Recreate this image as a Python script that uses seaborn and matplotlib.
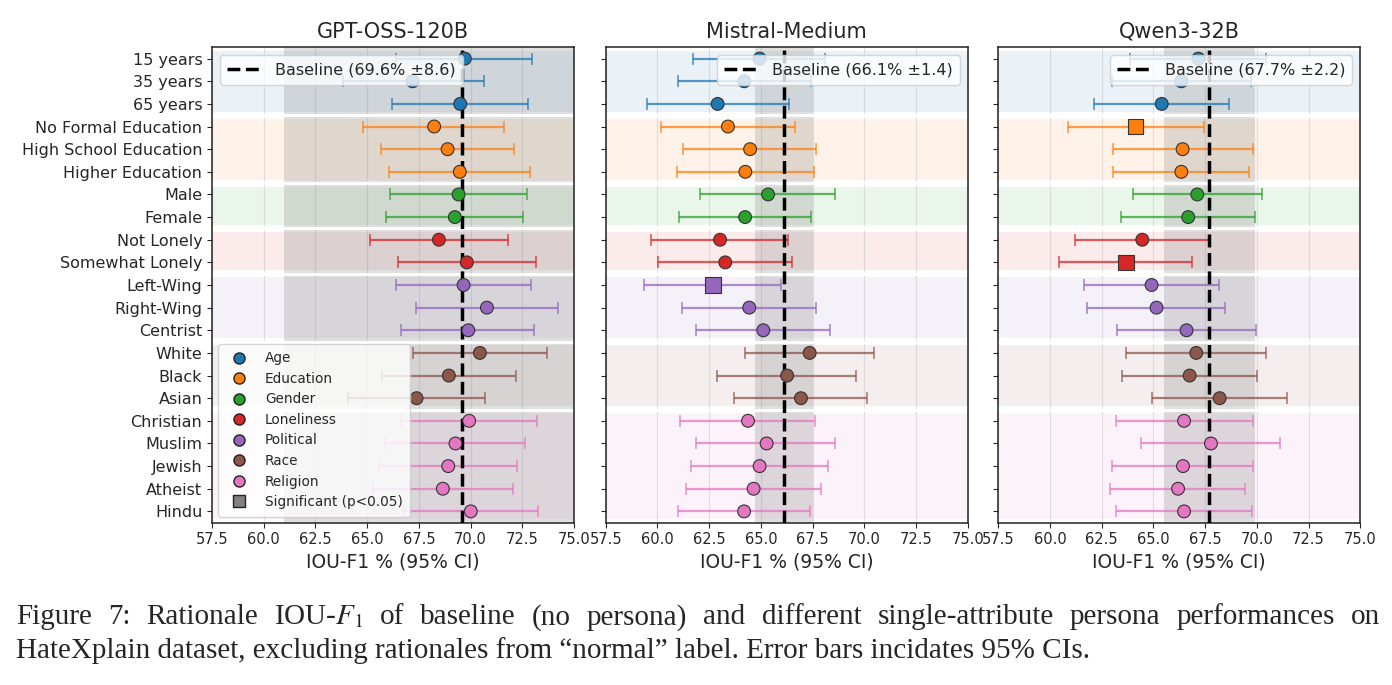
import matplotlib
matplotlib.use("Agg")
import matplotlib.pyplot as plt
from matplotlib.lines import Line2D
import seaborn as sns
import numpy as np
import pandas as pd

# ---------------- data ----------------
labels = ["15 years", "35 years", "65 years",
          "No Formal Education", "High School Education", "Higher Education",
          "Male", "Female",
          "Not Lonely", "Somewhat Lonely",
          "Left-Wing", "Right-Wing", "Centrist",
          "White", "Black", "Asian",
          "Christian", "Muslim", "Jewish", "Atheist", "Hindu"]
groups = (["Age"] * 3 + ["Education"] * 3 + ["Gender"] * 2 + ["Loneliness"] * 2
          + ["Political"] * 3 + ["Race"] * 3 + ["Religion"] * 5)
group_order = ["Age", "Education", "Gender", "Loneliness", "Political", "Race", "Religion"]
group_colors = ["#1f77b4", "#ff7f0e", "#2ca02c", "#d62728", "#9467bd", "#8c564b", "#e377c2"]

models = ["GPT-OSS-120B", "Mistral-Medium", "Qwen3-32B"]
baseline_mean = [69.6, 66.1, 67.7]
baseline_ci = [8.6, 1.4, 2.2]

gpt_mean = [69.72, 67.20, 69.50, 68.24, 68.89, 69.48, 69.42, 69.24, 68.47, 69.82,
            69.66, 70.79, 69.89, 70.45, 68.95, 67.39, 69.93, 69.27, 68.92, 68.66, 70.01]
gpt_lo = [66.40, 63.82, 66.19, 64.80, 65.66, 66.06, 66.09, 65.90, 65.14, 66.49,
          66.38, 67.36, 66.62, 67.20, 65.72, 64.06, 66.62, 65.88, 65.59, 65.27, 66.78]
gpt_hi = [72.99, 70.63, 72.80, 71.64, 72.12, 72.89, 72.72, 72.54, 71.83, 73.18,
          72.94, 74.21, 73.09, 73.68, 72.22, 70.72, 73.23, 72.65, 72.25, 72.06, 73.26]
gpt_sig = [False] * 21

mis_mean = [64.94, 64.20, 62.91, 63.41, 64.48, 64.25, 65.35, 64.24, 63.03, 63.28,
            62.70, 64.44, 65.12, 67.36, 66.27, 66.94, 64.38, 65.28, 64.94, 64.65, 64.19]
mis_lo = [61.70, 61.01, 59.48, 60.17, 61.25, 60.93, 62.08, 61.03, 59.68, 60.05,
          59.37, 61.17, 61.88, 64.25, 62.90, 63.70, 61.08, 61.87, 61.61, 61.40, 60.98]
mis_hi = [68.12, 67.41, 66.36, 66.65, 67.65, 67.59, 68.59, 67.43, 66.33, 66.52,
          65.96, 67.68, 68.34, 70.49, 69.60, 70.13, 67.64, 68.60, 68.26, 67.93, 67.39]
mis_sig = [False] * 10 + [True] + [False] * 10

qwen_mean = [67.17, 66.35, 65.40, 64.15, 66.41, 66.35, 67.12, 66.68, 64.46, 63.67,
             64.91, 65.15, 66.60, 67.07, 66.75, 68.20, 66.48, 67.78, 66.43, 66.19, 66.48]
qwen_lo = [63.86, 62.98, 62.12, 60.88, 63.03, 63.03, 64.00, 63.43, 61.19, 60.45,
           61.66, 61.80, 63.22, 63.66, 63.49, 64.94, 63.19, 64.41, 63.01, 62.90, 63.17]
qwen_hi = [70.44, 69.70, 68.63, 67.44, 69.79, 69.63, 70.26, 69.92, 67.73, 66.86,
           68.15, 68.44, 69.96, 70.44, 69.99, 71.44, 69.79, 71.13, 69.83, 69.44, 69.78]
qwen_sig = [False] * 3 + [True] + [False] * 5 + [True] + [False] * 11

means = [gpt_mean, mis_mean, qwen_mean]
los = [gpt_lo, mis_lo, qwen_lo]
his = [gpt_hi, mis_hi, qwen_hi]
sigs = [gpt_sig, mis_sig, qwen_sig]

x_ticks = [57.5, 60.0, 62.5, 65.0, 67.5, 70.0, 72.5, 75.0]

caption_line1 = ["Figure", "7:", "Rationale", "IOU-$F_1$", "of", "baseline", "(no", "persona)",
                 "and", "different", "single-attribute", "persona", "performances", "on"]
caption_line2 = "HateXplain dataset, excluding rationales from \u201cnormal\u201d label. Error bars incidates 95% CIs."

# ---------------- style ----------------
sns.set_style("ticks")
plt.rcParams["font.family"] = ["DejaVu Sans"]
plt.rcParams["mathtext.fontset"] = "stix"

palette = dict(zip(group_order, group_colors))
pos = np.arange(len(labels))

W, H = 1392, 685
fig = plt.figure(figsize=(W / 100, H / 100), dpi=100)
lefts = [212 / W, 605.7 / W, 998.3 / W]
ax_w = 362 / W
ax_b = 1 - 522.7 / H
ax_h = (522.7 - 47.3) / H
axes = []
for i, l in enumerate(lefts):
    ax = fig.add_axes([l, ax_b, ax_w, ax_h], sharey=axes[0] if axes else None)
    axes.append(ax)

for i, ax in enumerate(axes):
    df = pd.DataFrame({"label": labels, "group": groups, "pos": pos,
                       "mean": means[i], "lo": los[i], "hi": his[i], "sig": sigs[i]})
    # group background bands
    for g in group_order:
        rows = df.loc[df.group == g, "pos"]
        ax.axhspan(rows.min() - 0.35, rows.max() + 0.35, color=palette[g],
                   alpha=0.09, lw=0, zorder=0.5)
    # baseline CI band
    m, c = baseline_mean[i], baseline_ci[i]
    ax.axvspan(m - c, m + c, color="gray", alpha=0.25, lw=0, zorder=1)
    # white separators
    bounds = df.groupby("group", sort=False)["pos"].max().values[:-1] + 0.5
    for b in bounds:
        ax.axhline(b, color="white", lw=2.2, zorder=1.6)
    # error bars
    for g in group_order:
        sub = df[df.group == g]
        ax.errorbar(sub["mean"], sub["pos"],
                    xerr=[sub["mean"] - sub["lo"], sub["hi"] - sub["mean"]],
                    fmt="none", ecolor=palette[g], alpha=0.75, elinewidth=1.6,
                    capsize=4, capthick=1.2, zorder=3)
    # baseline line
    ax.axvline(m, color="black", ls="--", lw=2.5, zorder=3.5,
               label=f"Baseline ({m:.1f}% \u00b1{c:.1f})")
    # points
    sns.scatterplot(data=df[~df.sig], x="mean", y="pos", hue="group", palette=palette,
                    hue_order=group_order, marker="o", s=85, edgecolor="#333333",
                    linewidth=0.8, legend=False, ax=ax, zorder=4)
    if df.sig.any():
        sns.scatterplot(data=df[df.sig], x="mean", y="pos", hue="group", palette=palette,
                        hue_order=group_order, marker="s", s=120, edgecolor="#333333",
                        linewidth=0.8, legend=False, ax=ax, zorder=4)

    ax.set_xlim(57.5, 75.0)
    ax.set_ylim(20.5, -0.5)
    ax.set_xticks(x_ticks)
    ax.set_xticklabels([f"{t:.1f}" for t in x_ticks], fontsize=10.5)
    ax.set_yticks(pos)
    if i == 0:
        ax.set_yticklabels(labels, fontsize=11.5)
    else:
        ax.tick_params(axis="y", labelleft=False)
    ax.grid(axis="x", color="#b0b0b0", alpha=0.35, lw=0.8)
    ax.set_xlabel("IOU-F1 % (95% CI)", fontsize=13.5)
    ax.set_ylabel("")
    ax.set_title(models[i], fontsize=15, pad=7)
    for s in ax.spines.values():
        s.set_visible(True)
        s.set_color("#222222")
        s.set_linewidth(1.1)

    leg = ax.legend(loc="upper left" if i == 0 else "upper right", fontsize=11.5,
                    handlelength=2.2, borderpad=0.45, framealpha=0.8)
    leg.set_zorder(10)
    if i == 0:
        handles = [Line2D([], [], marker="o", ls="none", markersize=8,
                          markerfacecolor=palette[g], markeredgecolor="#222222",
                          markeredgewidth=1.0, label=g) for g in group_order]
        handles.append(Line2D([], [], marker="s", ls="none", markersize=8,
                              markerfacecolor="gray", markeredgecolor="#222222",
                              markeredgewidth=1.0, label="Significant (p<0.05)"))
        leg2 = ax.legend(handles=handles, loc="lower left", fontsize=9.8,
                         framealpha=0.8, labelspacing=0.48, handletextpad=0.9,
                         borderpad=0.55, borderaxespad=0.45)
        leg2.set_zorder(10)
        ax.add_artist(leg)

# ---------------- caption (justified first line) ----------------
cap_kw = dict(family="Liberation Serif", fontsize=21, va="baseline", ha="left")
renderer = fig.canvas.get_renderer()
x0, x1 = 16 / W, 1380 / W
y1 = 1 - 624.3 / H
y2 = 1 - 657.7 / H
texts = [fig.text(0, y1, w, **cap_kw) for w in caption_line1]
widths = [t.get_window_extent(renderer).width / W for t in texts]
gap = (x1 - x0 - sum(widths)) / (len(texts) - 1)
x = x0
for t, w in zip(texts, widths):
    t.set_x(x)
    x += w + gap
fig.text(x0, y2, caption_line2, **cap_kw)

fig.savefig("out.png", dpi=100)
